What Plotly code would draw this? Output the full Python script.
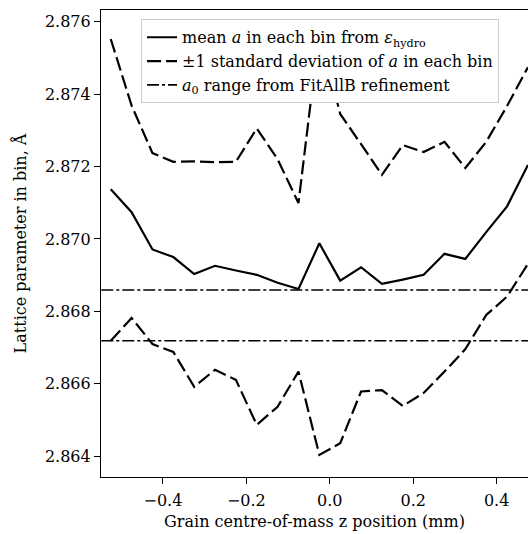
import plotly.graph_objects as go

# Grain centre-of-mass z position of each bin (mm)
z_bin = [-0.525, -0.475, -0.425, -0.375, -0.325, -0.275, -0.225, -0.175, -0.125, -0.075,
         -0.025, 0.025, 0.075, 0.125, 0.175, 0.225, 0.275, 0.325, 0.375, 0.425, 0.475]

# Mean lattice parameter in each bin (Å)
a_mean = [2.87137, 2.87074, 2.86971, 2.86950, 2.86903, 2.86926, 2.86913, 2.86901, 2.86879, 2.86862,
          2.86988, 2.86885, 2.86922, 2.86876, 2.86888, 2.86901, 2.86959, 2.86945, 2.87019, 2.87090,
          2.87204]

# Mean +1 standard deviation (Å)
a_upper = [2.87552, 2.87368, 2.87237, 2.87213, 2.87214, 2.87212, 2.87213, 2.87305, 2.87220, 2.87099,
           2.87575, 2.87345, 2.87262, 2.87177, 2.87259, 2.87240, 2.87268, 2.87196, 2.87268, 2.87367,
           2.87474]

# Mean -1 standard deviation (Å)
a_lower = [2.86719, 2.86782, 2.86710, 2.86688, 2.86592, 2.86639, 2.86611, 2.86487, 2.86537, 2.86634,
           2.86404, 2.86436, 2.86579, 2.86583, 2.86539, 2.86575, 2.86634, 2.86696, 2.86790, 2.86841,
           2.86931]

# a0 range from FitAllB refinement (Å)
a0_range = [2.86859, 2.86719]

y_ticks = [2.864, 2.866, 2.868, 2.870, 2.872, 2.874, 2.876]
x_ticks = [-0.4, -0.2, 0.0, 0.2, 0.4]

x_range = [-0.5484, 0.4752]
y_range = [2.86343, 2.87632]

FONT = "DejaVu Serif"
FS = 16

fig = go.Figure()

fig.add_trace(go.Scatter(
    x=z_bin, y=a_mean, mode="lines",
    line=dict(color="black", width=2.2),
    name="mean <i>a</i> in each bin from <i>ε</i><sub>hydro</sub>",
))

fig.add_trace(go.Scatter(
    x=z_bin + [None] + z_bin, y=a_upper + [None] + a_lower, mode="lines",
    line=dict(color="black", width=2.2, dash="14px,5px"),
    name="±1 standard deviation of <i>a</i> in each bin",
))

span = [x_range[0] - 0.1, x_range[1] + 0.1]
fig.add_trace(go.Scatter(
    x=span + [None] + span,
    y=[a0_range[0]] * 2 + [None] + [a0_range[1]] * 2,
    mode="lines",
    line=dict(color="black", width=1.6, dash="12px,3px,3px,3px"),
    name="<i>a</i><sub>0</sub> range from FitAllB refinement",
))

axis_common = dict(
    showgrid=False, zeroline=False,
    showline=True, linecolor="black", linewidth=1.2,
    ticks="outside", ticklen=6, tickwidth=1.2, tickcolor="black",
    tickfont=dict(family=FONT, size=FS, color="black"),
)

fig.update_xaxes(
    range=x_range, tickvals=x_ticks, ticktext=[f"{v:.1f}".replace("-", "\u2212") for v in x_ticks],
    mirror=True, ticklabelstandoff=3,
    title=dict(text="Grain centre-of-mass z position (mm)",
               font=dict(family=FONT, size=FS, color="black"), standoff=6),
    **axis_common,
)
fig.update_yaxes(
    range=y_range, tickvals=y_ticks, ticktext=[f"{v:.3f}" for v in y_ticks],
    mirror=False,
    title=dict(text="Lattice parameter in bin, Å",
               font=dict(family=FONT, size=FS, color="black"), standoff=14),
    **axis_common,
)

fig.update_layout(
    width=528, height=534,
    margin=dict(l=101, r=0, t=10, b=57),
    paper_bgcolor="white", plot_bgcolor="white",
    font=dict(family=FONT, size=FS, color="black"),
    showlegend=True,
    legend=dict(
        x=0.513, xanchor="center", y=0.98, yanchor="top",
        bgcolor="white", bordercolor="#cccccc", borderwidth=1,
        font=dict(family=FONT, size=FS, color="black"),
        tracegroupgap=0,
    ),
)

fig.write_html("out.html")
